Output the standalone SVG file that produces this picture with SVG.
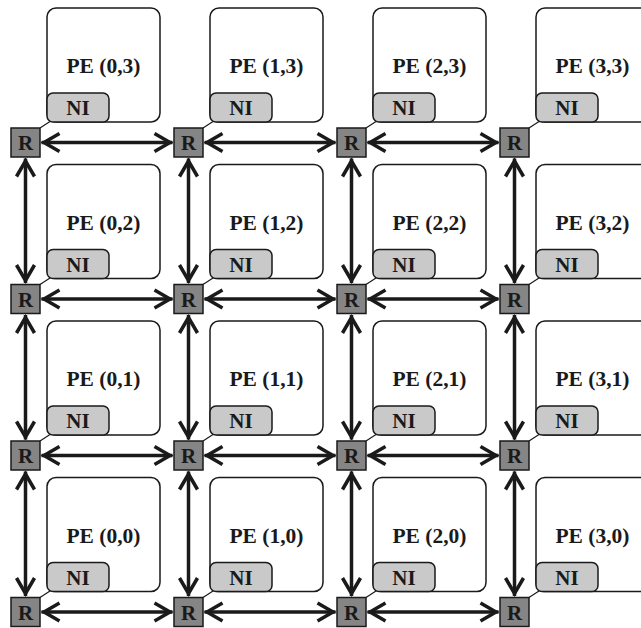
<svg xmlns="http://www.w3.org/2000/svg" width="641" height="628" viewBox="0 0 641 628">
<style>
.pe{fill:#fff;stroke:#1a1a1a;stroke-width:1.5}
.ni{fill:#c9c9c9;stroke:#1a1a1a;stroke-width:1.5}
.rt{fill:#858585;stroke:#1a1a1a;stroke-width:1.5}
.t{font-family:"Liberation Serif","Times New Roman",serif;font-weight:bold;fill:#1a1a1a;text-anchor:middle}
.pt{font-size:21.5px}
.nt{font-size:21px}
.rtx{font-size:21px}
.ln{stroke:#1a1a1a;stroke-width:3.5;fill:none;marker-start:url(#ah);marker-end:url(#ah)}
.dg{stroke:#1a1a1a;stroke-width:1.2;fill:none}
</style>
<defs>
<marker id="ah" markerUnits="userSpaceOnUse" viewBox="-22 -12 26 24" refX="0" refY="0" markerWidth="26" markerHeight="24" orient="auto-start-reverse">
<path d="M-18,-9 L-2.5,0 L-18,9" fill="none" stroke="#1a1a1a" stroke-width="3.5" stroke-linejoin="miter"/>
</marker>
</defs>

<g id="connectors">
<g id="h-links">
<line class="ln" x1="41.5" y1="142.5" x2="172.5" y2="142.5"/>
<line class="ln" x1="204.5" y1="142.5" x2="335.5" y2="142.5"/>
<line class="ln" x1="367.5" y1="142.5" x2="498.5" y2="142.5"/>
<line class="ln" x1="41.5" y1="299" x2="172.5" y2="299"/>
<line class="ln" x1="204.5" y1="299" x2="335.5" y2="299"/>
<line class="ln" x1="367.5" y1="299" x2="498.5" y2="299"/>
<line class="ln" x1="41.5" y1="455.5" x2="172.5" y2="455.5"/>
<line class="ln" x1="204.5" y1="455.5" x2="335.5" y2="455.5"/>
<line class="ln" x1="367.5" y1="455.5" x2="498.5" y2="455.5"/>
<line class="ln" x1="41.5" y1="612" x2="172.5" y2="612"/>
<line class="ln" x1="204.5" y1="612" x2="335.5" y2="612"/>
<line class="ln" x1="367.5" y1="612" x2="498.5" y2="612"/>
</g>
<g id="v-links">
<line class="ln" x1="25.5" y1="158.5" x2="25.5" y2="283"/>
<line class="ln" x1="25.5" y1="315" x2="25.5" y2="439.5"/>
<line class="ln" x1="25.5" y1="471.5" x2="25.5" y2="596"/>
<line class="ln" x1="188.5" y1="158.5" x2="188.5" y2="283"/>
<line class="ln" x1="188.5" y1="315" x2="188.5" y2="439.5"/>
<line class="ln" x1="188.5" y1="471.5" x2="188.5" y2="596"/>
<line class="ln" x1="351.5" y1="158.5" x2="351.5" y2="283"/>
<line class="ln" x1="351.5" y1="315" x2="351.5" y2="439.5"/>
<line class="ln" x1="351.5" y1="471.5" x2="351.5" y2="596"/>
<line class="ln" x1="514.5" y1="158.5" x2="514.5" y2="283"/>
<line class="ln" x1="514.5" y1="315" x2="514.5" y2="439.5"/>
<line class="ln" x1="514.5" y1="471.5" x2="514.5" y2="596"/>
</g>
<g id="ni-links">
<line class="dg" x1="40" y1="128" x2="50" y2="121.5"/>
<line class="dg" x1="203" y1="128" x2="213" y2="121.5"/>
<line class="dg" x1="366" y1="128" x2="376" y2="121.5"/>
<line class="dg" x1="529" y1="128" x2="539" y2="121.5"/>
<line class="dg" x1="40" y1="284.5" x2="50" y2="278"/>
<line class="dg" x1="203" y1="284.5" x2="213" y2="278"/>
<line class="dg" x1="366" y1="284.5" x2="376" y2="278"/>
<line class="dg" x1="529" y1="284.5" x2="539" y2="278"/>
<line class="dg" x1="40" y1="441" x2="50" y2="434.5"/>
<line class="dg" x1="203" y1="441" x2="213" y2="434.5"/>
<line class="dg" x1="366" y1="441" x2="376" y2="434.5"/>
<line class="dg" x1="529" y1="441" x2="539" y2="434.5"/>
<line class="dg" x1="40" y1="597.5" x2="50" y2="591"/>
<line class="dg" x1="203" y1="597.5" x2="213" y2="591"/>
<line class="dg" x1="366" y1="597.5" x2="376" y2="591"/>
<line class="dg" x1="529" y1="597.5" x2="539" y2="591"/>
</g>
</g>

<g id="pe-0-3"><rect class="pe" x="47" y="8" width="113" height="114" rx="9"/><rect class="ni" x="47" y="93" width="62" height="29" rx="6"/><text class="t pt" x="103.5" y="73">PE (0,3)</text><text class="t nt" x="78" y="115">NI</text></g>
<g id="pe-1-3"><rect class="pe" x="210" y="8" width="113" height="114" rx="9"/><rect class="ni" x="210" y="93" width="62" height="29" rx="6"/><text class="t pt" x="266.5" y="73">PE (1,3)</text><text class="t nt" x="241" y="115">NI</text></g>
<g id="pe-2-3"><rect class="pe" x="373" y="8" width="113" height="114" rx="9"/><rect class="ni" x="373" y="93" width="62" height="29" rx="6"/><text class="t pt" x="429.5" y="73">PE (2,3)</text><text class="t nt" x="404" y="115">NI</text></g>
<g id="pe-3-3"><rect class="pe" x="536" y="8" width="113" height="114" rx="9"/><rect class="ni" x="536" y="93" width="62" height="29" rx="6"/><text class="t pt" x="592.5" y="73">PE (3,3)</text><text class="t nt" x="567" y="115">NI</text></g>

<g id="pe-0-2"><rect class="pe" x="47" y="164.5" width="113" height="114" rx="9"/><rect class="ni" x="47" y="249.5" width="62" height="29" rx="6"/><text class="t pt" x="103.5" y="229.5">PE (0,2)</text><text class="t nt" x="78" y="271.5">NI</text></g>
<g id="pe-1-2"><rect class="pe" x="210" y="164.5" width="113" height="114" rx="9"/><rect class="ni" x="210" y="249.5" width="62" height="29" rx="6"/><text class="t pt" x="266.5" y="229.5">PE (1,2)</text><text class="t nt" x="241" y="271.5">NI</text></g>
<g id="pe-2-2"><rect class="pe" x="373" y="164.5" width="113" height="114" rx="9"/><rect class="ni" x="373" y="249.5" width="62" height="29" rx="6"/><text class="t pt" x="429.5" y="229.5">PE (2,2)</text><text class="t nt" x="404" y="271.5">NI</text></g>
<g id="pe-3-2"><rect class="pe" x="536" y="164.5" width="113" height="114" rx="9"/><rect class="ni" x="536" y="249.5" width="62" height="29" rx="6"/><text class="t pt" x="592.5" y="229.5">PE (3,2)</text><text class="t nt" x="567" y="271.5">NI</text></g>

<g id="pe-0-1"><rect class="pe" x="47" y="321" width="113" height="114" rx="9"/><rect class="ni" x="47" y="406" width="62" height="29" rx="6"/><text class="t pt" x="103.5" y="386">PE (0,1)</text><text class="t nt" x="78" y="428">NI</text></g>
<g id="pe-1-1"><rect class="pe" x="210" y="321" width="113" height="114" rx="9"/><rect class="ni" x="210" y="406" width="62" height="29" rx="6"/><text class="t pt" x="266.5" y="386">PE (1,1)</text><text class="t nt" x="241" y="428">NI</text></g>
<g id="pe-2-1"><rect class="pe" x="373" y="321" width="113" height="114" rx="9"/><rect class="ni" x="373" y="406" width="62" height="29" rx="6"/><text class="t pt" x="429.5" y="386">PE (2,1)</text><text class="t nt" x="404" y="428">NI</text></g>
<g id="pe-3-1"><rect class="pe" x="536" y="321" width="113" height="114" rx="9"/><rect class="ni" x="536" y="406" width="62" height="29" rx="6"/><text class="t pt" x="592.5" y="386">PE (3,1)</text><text class="t nt" x="567" y="428">NI</text></g>

<g id="pe-0-0"><rect class="pe" x="47" y="477.5" width="113" height="114" rx="9"/><rect class="ni" x="47" y="562.5" width="62" height="29" rx="6"/><text class="t pt" x="103.5" y="542.5">PE (0,0)</text><text class="t nt" x="78" y="584.5">NI</text></g>
<g id="pe-1-0"><rect class="pe" x="210" y="477.5" width="113" height="114" rx="9"/><rect class="ni" x="210" y="562.5" width="62" height="29" rx="6"/><text class="t pt" x="266.5" y="542.5">PE (1,0)</text><text class="t nt" x="241" y="584.5">NI</text></g>
<g id="pe-2-0"><rect class="pe" x="373" y="477.5" width="113" height="114" rx="9"/><rect class="ni" x="373" y="562.5" width="62" height="29" rx="6"/><text class="t pt" x="429.5" y="542.5">PE (2,0)</text><text class="t nt" x="404" y="584.5">NI</text></g>
<g id="pe-3-0"><rect class="pe" x="536" y="477.5" width="113" height="114" rx="9"/><rect class="ni" x="536" y="562.5" width="62" height="29" rx="6"/><text class="t pt" x="592.5" y="542.5">PE (3,0)</text><text class="t nt" x="567" y="584.5">NI</text></g>

<g id="r-0-3"><rect class="rt" x="11" y="128" width="29" height="29"/><text class="t rtx" x="25.5" y="150">R</text></g>
<g id="r-1-3"><rect class="rt" x="174" y="128" width="29" height="29"/><text class="t rtx" x="188.5" y="150">R</text></g>
<g id="r-2-3"><rect class="rt" x="337" y="128" width="29" height="29"/><text class="t rtx" x="351.5" y="150">R</text></g>
<g id="r-3-3"><rect class="rt" x="500" y="128" width="29" height="29"/><text class="t rtx" x="514.5" y="150">R</text></g>
<g id="r-0-2"><rect class="rt" x="11" y="284.5" width="29" height="29"/><text class="t rtx" x="25.5" y="306.5">R</text></g>
<g id="r-1-2"><rect class="rt" x="174" y="284.5" width="29" height="29"/><text class="t rtx" x="188.5" y="306.5">R</text></g>
<g id="r-2-2"><rect class="rt" x="337" y="284.5" width="29" height="29"/><text class="t rtx" x="351.5" y="306.5">R</text></g>
<g id="r-3-2"><rect class="rt" x="500" y="284.5" width="29" height="29"/><text class="t rtx" x="514.5" y="306.5">R</text></g>
<g id="r-0-1"><rect class="rt" x="11" y="441" width="29" height="29"/><text class="t rtx" x="25.5" y="463">R</text></g>
<g id="r-1-1"><rect class="rt" x="174" y="441" width="29" height="29"/><text class="t rtx" x="188.5" y="463">R</text></g>
<g id="r-2-1"><rect class="rt" x="337" y="441" width="29" height="29"/><text class="t rtx" x="351.5" y="463">R</text></g>
<g id="r-3-1"><rect class="rt" x="500" y="441" width="29" height="29"/><text class="t rtx" x="514.5" y="463">R</text></g>
<g id="r-0-0"><rect class="rt" x="11" y="597.5" width="29" height="29"/><text class="t rtx" x="25.5" y="619.5">R</text></g>
<g id="r-1-0"><rect class="rt" x="174" y="597.5" width="29" height="29"/><text class="t rtx" x="188.5" y="619.5">R</text></g>
<g id="r-2-0"><rect class="rt" x="337" y="597.5" width="29" height="29"/><text class="t rtx" x="351.5" y="619.5">R</text></g>
<g id="r-3-0"><rect class="rt" x="500" y="597.5" width="29" height="29"/><text class="t rtx" x="514.5" y="619.5">R</text></g>
</svg>
